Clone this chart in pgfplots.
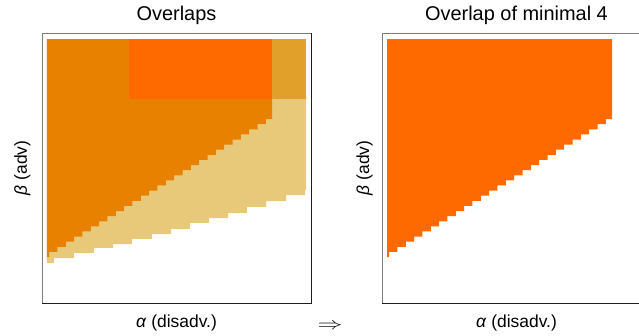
\documentclass[border=0pt]{standalone}
\usepackage{pgfplots}
\pgfplotsset{compat=1.18}
\usepackage{graphicx}
\usepackage{fontspec}
\setmainfont{Liberation Sans}
\definecolor{darkor}{RGB}{232,128,0}
\definecolor{brightor}{RGB}{255,106,0}
\definecolor{goldr}{RGB}{224,160,42}
\definecolor{tanc}{RGB}{232,201,122}
\definecolor{frgray}{RGB}{125,125,125}
\definecolor{frdark}{RGB}{30,30,30}
\pgfplotsset{
  panel/.style={
    scale only axis, width=269bp, height=270bp,
    xmin=-0.0193, xmax=1.0193, ymin=-0.0233, ymax=1.0233,
    xtick=\empty, ytick=\empty,
    axis line style={draw=none},
    title style={at={(0.5,1.0233)}, anchor=base, yshift=0pt, font=\fontsize{20}{24}\selectfont},
    xlabel style={at={(0.5,-0.0889)}, anchor=base, font=\fontsize{17.5}{21}\selectfont},
    ylabel style={at={(-0.0558,0.5)}, anchor=base, font=\fontsize{17.5}{21}\selectfont},
    xlabel={\textit{α} (disadv.)},
    ylabel={\textit{β} (adv)},
  }
}
\newcommand{\upperregion}{(0,1) (0,0.155) (0.008,0.155) (0.008,0.1748) (0.0402,0.1748) (0.0402,0.1946) (0.0724,0.1946) (0.0724,0.2144) (0.1046,0.2144) (0.1046,0.2342) (0.1368,0.2342) (0.1368,0.254) (0.169,0.254) (0.169,0.2738) (0.2012,0.2738) (0.2012,0.2936) (0.2334,0.2936) (0.2334,0.3134) (0.2656,0.3134) (0.2656,0.3332) (0.2978,0.3332) (0.2978,0.353) (0.33,0.353) (0.33,0.3728) (0.3622,0.3728) (0.3622,0.3926) (0.3944,0.3926) (0.3944,0.4124) (0.4266,0.4124) (0.4266,0.4322) (0.4588,0.4322) (0.4588,0.452) (0.491,0.452) (0.491,0.4718) (0.5232,0.4718) (0.5232,0.4916) (0.5554,0.4916) (0.5554,0.5114) (0.5876,0.5114) (0.5876,0.5312) (0.6198,0.5312) (0.6198,0.551) (0.652,0.551) (0.652,0.5708) (0.6842,0.5708) (0.6842,0.5906) (0.7164,0.5906) (0.7164,0.6104) (0.7486,0.6104) (0.7486,0.6302) (0.7808,0.6302) (0.7808,0.65) (0.813,0.65) (0.813,0.6698) (0.8452,0.6698) (0.8452,0.6896) (0.869,0.6896) (0.869,1)}
\begin{document}
\begin{tikzpicture}
\begin{axis}[panel, name=L, at={(42bp,-303bp)}, anchor=south west, title={Overlaps}]
  % light band (lowest layer)
  \addplot[fill=tanc, draw=none] coordinates {(0,1) (0,0.132) (0.027,0.132) (0.027,0.151) (0.104,0.151) (0.104,0.171) (0.181,0.171) (0.181,0.190) (0.255,0.190) (0.255,0.205) (0.328,0.205) (0.328,0.225) (0.405,0.225) (0.405,0.244) (0.479,0.244) (0.479,0.264) (0.552,0.264) (0.552,0.287) (0.625,0.287) (0.625,0.306) (0.699,0.306) (0.699,0.326) (0.772,0.326) (0.772,0.349) (0.846,0.349) (0.846,0.372) (0.923,0.372) (0.923,0.395) (0.996,0.395) (0.996,0.415) (1,0.415) (1,1)} -- cycle;
  % dark orange region
  \addplot[fill=darkor, draw=none] coordinates {\upperregion} -- cycle;
  % bright orange block
  \addplot[fill=brightor, draw=none] coordinates {(0.317,0.767) (0.869,0.767) (0.869,1) (0.317,1)} -- cycle;
  % golden block
  \addplot[fill=goldr, draw=none] coordinates {(0.869,0.767) (1,0.767) (1,1) (0.869,1)} -- cycle;
\end{axis}
\draw[frgray, line width=1bp] (L.south west) -- (L.north west) -- (L.north east);
\draw[frdark, line width=1bp] (L.south west) -- (L.south east) -- (L.north east);

\begin{axis}[panel, name=R, at={(382bp,-303bp)}, anchor=south west, title={Overlap of minimal 4},
  ylabel style={at={(-0.048,0.5)}}]
  \addplot[fill=brightor, draw=none] coordinates {\upperregion} -- cycle;
\end{axis}
\draw[frgray, line width=1bp] (R.south west) -- (R.north west) -- (R.north east);
\draw[frdark, line width=1bp] (R.south west) -- (R.south east) -- (R.north east);

\node[font=\fontsize{17}{20}\selectfont, inner sep=0pt] at (330bp,-326bp) {\scalebox{1.45}[1.0]{$\Rightarrow$}};

\pgfresetboundingbox
\useasboundingbox (0,0) rectangle (639bp,-336bp);
\end{tikzpicture}
\end{document}
